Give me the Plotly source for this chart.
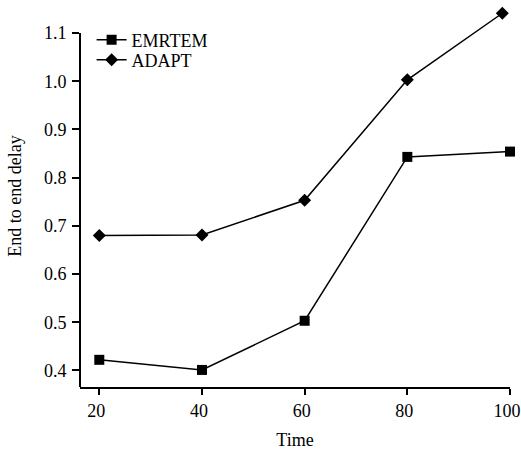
import plotly.graph_objects as go

time_emrtem = [20, 40, 60, 80, 100]
delay_emrtem = [0.422, 0.401, 0.503, 0.843, 0.854]
time_adapt = [20, 40, 60, 80, 98.5]
delay_adapt = [0.680, 0.681, 0.753, 1.003, 1.141]
x_ticks = [20, 40, 60, 80, 100]
y_ticks = [0.4, 0.5, 0.6, 0.7, 0.8, 0.9, 1.0, 1.1]
y_tick_text = ["0.4", "0.5", "0.6", "0.7", "0.8", "0.9", "1.0", "1.1"]

FONT = "Liberation Serif"
W, H = 521, 450
ml, mr, mt, mb = 80, 11, 5, 63
y_bottom = 0.3656
px_per_unit = 482.0
y_top = y_bottom + (H - mt - mb) / px_per_unit
plot_h = H - mt - mb

fig = go.Figure()
fig.add_trace(go.Scatter(
    x=time_emrtem, y=delay_emrtem, name="EMRTEM", mode="lines+markers",
    line=dict(color="black", width=1.5),
    marker=dict(symbol="square", size=10, color="black"),
    cliponaxis=False, legend="legend",
))
fig.add_trace(go.Scatter(
    x=time_adapt, y=delay_adapt, name="ADAPT", mode="lines+markers",
    line=dict(color="black", width=1.5),
    marker=dict(symbol="diamond", size=10, color="black"),
    cliponaxis=False, legend="legend2",
))

# y axis line only up to 1.1
fig.add_shape(type="line", xref="paper", yref="y", x0=0, x1=0,
              y0=y_bottom, y1=1.1, line=dict(color="black", width=2))

def leg(center_px):
    return dict(x=0.027, y=(H - mb - center_px) / plot_h, xanchor="left", yanchor="middle",
                bgcolor="rgba(0,0,0,0)", font=dict(family=FONT, size=18),
                itemwidth=30)

fig.update_layout(
    width=W, height=H,
    margin=dict(l=ml, r=mr, t=mt, b=mb, autoexpand=False),
    paper_bgcolor="white", plot_bgcolor="white",
    font=dict(family=FONT, size=18, color="black"),
    showlegend=True,
    legend=leg(40),
    legend2=leg(60),
    xaxis=dict(
        range=[16.24, 100], tickvals=x_ticks, ticks="outside", ticklen=6,
        tickwidth=2, tickcolor="black", showline=True, linecolor="black",
        linewidth=2, showgrid=False, zeroline=False, automargin=False,
        ticklabeloverflow="allow", ticklabelshift=-3,
        title=dict(text="Time", font=dict(family=FONT, size=18), standoff=14),
        tickfont=dict(family=FONT, size=18),
    ),
    yaxis=dict(
        range=[y_bottom, y_top], tickvals=y_ticks, ticktext=y_tick_text,
        ticks="outside", ticklen=7, tickwidth=2, tickcolor="black",
        showline=False, showgrid=False, zeroline=False, automargin=False,
        ticklabelstandoff=2,
        title=dict(text="End to end delay", font=dict(family=FONT, size=18), standoff=17),
        tickfont=dict(family=FONT, size=18),
    ),
)

fig.write_html("out.html", config={"displayModeBar": False},
               post_script="document.body.style.margin='0';")
